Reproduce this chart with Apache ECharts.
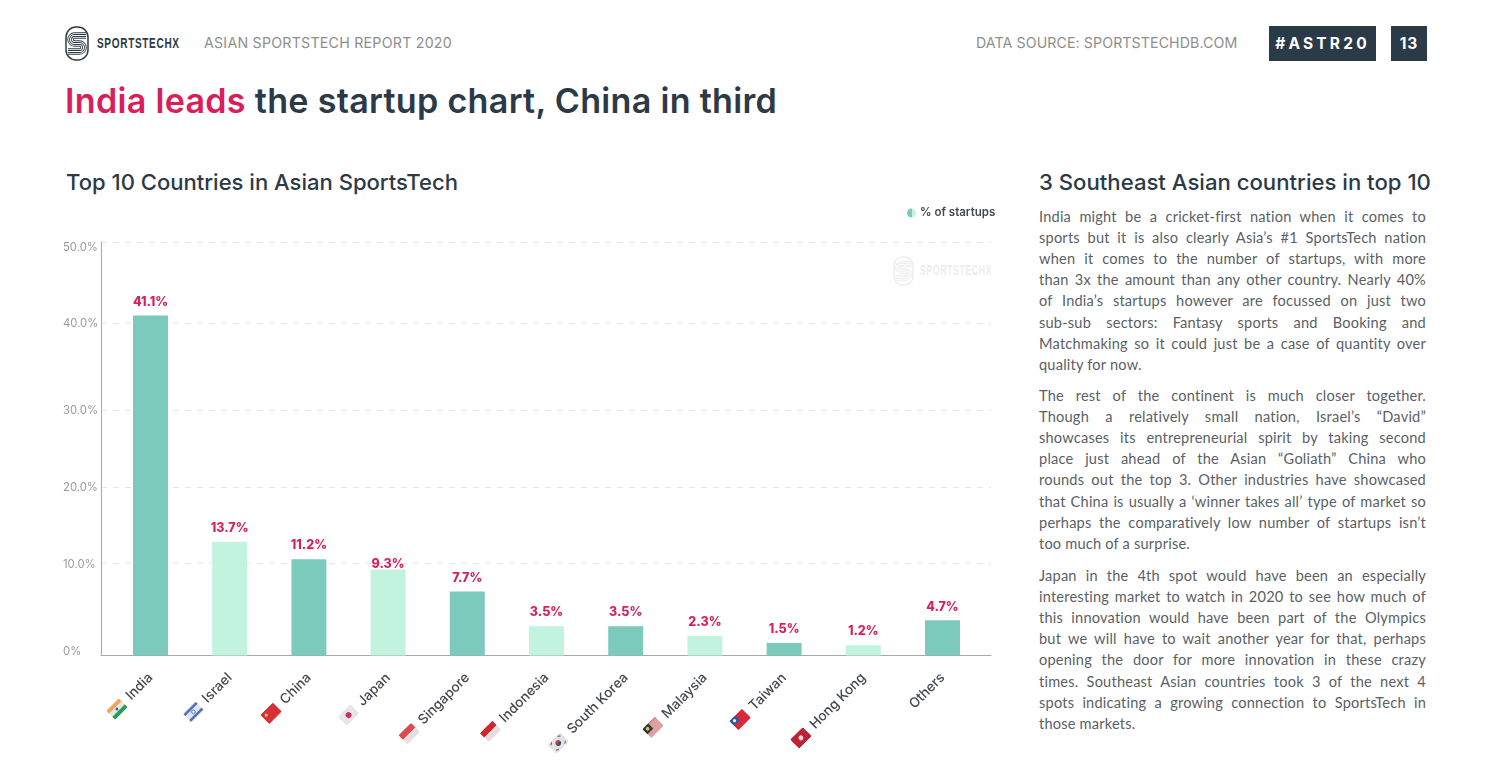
<!DOCTYPE html>
<html><head><meta charset="utf-8">
<style>
html,body{margin:0;padding:0;background:#fff;width:1487px;height:773px;overflow:hidden}
#page{position:relative;width:1487px;height:773px;font-family:Inter,sans-serif;color:#2c3a47}
#chart{position:absolute;left:0;top:0;width:1487px;height:773px}
.t{position:absolute;white-space:nowrap}
.fit{transform-origin:0 50%}
.line{position:absolute;left:1039px;width:387px;font:400 14.6px/21px Lato,sans-serif;letter-spacing:.2px;color:#5a5f65;text-align:justify;text-align-last:justify;white-space:nowrap}
.line.end{text-align-last:left}
.box{position:absolute;top:26px;height:35px;background:#2b3a47;color:#fff;font:700 15.5px/35px Inter,sans-serif;text-align:center}
</style></head><body>
<div id="page">
  <svg class="t" style="left:65px;top:26px" width="24" height="35" viewBox="0 0 24 35" id="logo"></svg>
  <div class="t fit" data-w="83" style="left:97px;top:35px;font:700 15px/16px 'Liberation Sans',sans-serif;letter-spacing:1px;color:#2f3a45">SPORTSTECHX</div>
  <div class="t" style="left:204px;top:34px;font:400 14.2px/18px Inter,sans-serif;letter-spacing:.24px;color:#8e8e8e">ASIAN SPORTSTECH REPORT 2020</div>
  <div class="t" style="left:976px;top:34px;font:400 14.2px/18px Inter,sans-serif;letter-spacing:.09px;color:#8e8e8e">DATA SOURCE: SPORTSTECHDB.COM</div>
  <div class="box" style="left:1269px;width:107px;letter-spacing:3.2px">#ASTR20</div>
  <div class="box" style="left:1391px;width:36px;letter-spacing:1px">13</div>
  <div class="t" style="left:65px;top:79px;font:600 34.1px/44px Inter,sans-serif;letter-spacing:.3px"><span style="color:#d81f5b">India leads</span> the startup chart, China in third</div>
  <div class="t" style="left:66px;top:167px;font:500 22.05px/30px Inter,sans-serif">Top 10 Countries in Asian SportsTech</div>
  <div class="t" style="left:1039px;top:167px;font:500 22.15px/30px Inter,sans-serif">3 Southeast Asian countries in top 10</div>
  <svg class="t" style="left:893px;top:256px;opacity:.1" width="21" height="30" viewBox="0 0 24 35" id="wm"></svg>
  <div class="t fit" data-w="72" style="left:920px;top:263px;font:700 14px/15px 'Liberation Sans',sans-serif;letter-spacing:1px;color:#ededed">SPORTSTECHX</div>
  <div id="copy"></div>
  <div id="chart"></div>
</div>
<script src="https://cdn.jsdelivr.net/npm/echarts@6/dist/echarts.min.js"></script>
<script>
const countries = ['India','Israel','China','Japan','Singapore','Indonesia','South Korea','Malaysia','Taiwan','Hong Kong','Others'];
// percentages as printed above the bars
const printedShares = [41.1,13.7,11.2,9.3,7.7,3.5,3.5,2.3,1.5,1.2,4.7];
// bar lengths as drawn in the picture, on the same 0-50 scale
const drawnBars = [41.1,13.75,11.65,10.4,7.75,3.55,3.55,2.35,1.5,1.25,4.25];
// the reference's tick labels and where it places them and its gridlines
const tickNames = ['0%','10.0%','20.0%','30.0%','40.0%','50.0%'];
const gridlineAt = [11.2,20.4,29.7,40.2,50];
const tickLabelAt = [0.45,11.05,20.3,29.6,40.1,49.3];
const legendName = '% of startups';
const flagCodes = ['in','il','cn','jp','sg','id','kr','my','tw','hk',null];
const paragraphs = [
 ['India might be a cricket-first nation when it comes to','sports but it is also clearly Asia’s #1 SportsTech nation','when it comes to the number of startups, with more','than 3x the amount than any other country. Nearly 40%','of India’s startups however are focussed on just two','sub-sub sectors: Fantasy sports and Booking and','Matchmaking so it could just be a case of quantity over','quality for now.'],
 ['The rest of the continent is much closer together.','Though a relatively small nation, Israel’s “David”','showcases its entrepreneurial spirit by taking second','place just ahead of the Asian “Goliath” China who','rounds out the top 3. Other industries have showcased','that China is usually a ‘winner takes all’ type of market so','perhaps the comparatively low number of startups isn’t','too much of a surprise.'],
 ['Japan in the 4th spot would have been an especially','interesting market to watch in 2020 to see how much of','this innovation would have been part of the Olympics','but we will have to wait another year for that, perhaps','opening the door for more innovation in these crazy','times. Southeast Asian countries took 3 of the next 4','spots indicating a growing connection to SportsTech in','those markets.']
];
const paragraphTops = [206,385,565];

document.querySelectorAll('.fit').forEach(el=>{
  el.style.transform='scaleX('+(+el.dataset.w/el.offsetWidth)+')';
});

// copy block
const copy = document.getElementById('copy');
paragraphs.forEach((lines,p)=>lines.forEach((txt,i)=>{
  const d=document.createElement('div');
  d.className='line'+(i===lines.length-1?' end':'');
  d.style.top=(paragraphTops[p]+i*21.1)+'px';
  d.textContent=txt;
  copy.appendChild(d);
}));

// logo
const logoInner = `<rect x="1" y="1" width="22" height="33" rx="10" fill="none" stroke="#2f3a45" stroke-width="1.5"/>
<g fill="none" stroke-linecap="butt">
${[[11,'#2f3a45'],[8,'#fff'],[5,'#2f3a45'],[2,'#fff']].map(([w,c])=>`<path d="M21 9.5H9.5a4 4 0 0 0 0 8h5a4 4 0 0 1 0 8H3" stroke="${c}" stroke-width="${w/1.7}"/>`).join('')}
</g>`;
document.getElementById('logo').innerHTML = logoInner;
document.getElementById('wm').innerHTML = logoInner;

// flag images for the axis labels
function svgUri(body){
  return 'data:image/svg+xml;utf8,'+encodeURIComponent('<svg xmlns="http://www.w3.org/2000/svg" width="60" height="42" viewBox="0 0 30 21"><clipPath id="c"><rect width="30" height="21" rx="2.5"/></clipPath><g clip-path="url(#c)">'+body+'</g></svg>');
}
const r=(y,h,c)=>`<rect y="${y}" width="30" height="${h}" fill="${c}"/>`;
const flagArt = {
  in: r(0,7,'#f0a35e')+r(7,7,'#ebe6df')+r(14,7,'#2f9a58')+'<circle cx="15" cy="10.5" r="2.4" fill="#3b5aa0"/>',
  il: r(0,21,'#dfe4f0')+r(2,4,'#4f6fb5')+r(15,4,'#4f6fb5')+'<circle cx="15" cy="10.5" r="3" fill="none" stroke="#4f6fb5" stroke-width="1.4"/>',
  cn: r(0,21,'#d8303a')+'<circle cx="7" cy="7" r="2.6" fill="#f4c542"/>',
  jp: r(0,21,'#e6e6e6')+'<circle cx="15" cy="10.5" r="4.8" fill="#d32f5c"/>',
  sg: r(0,10.5,'#dd4a52')+r(10.5,10.5,'#e6dfdf'),
  id: r(0,10.5,'#d0262f')+r(10.5,10.5,'#e6dfdf'),
  kr: r(0,21,'#e2e2e2')+'<circle cx="15" cy="10.5" r="4.5" fill="#b8404f"/><path d="M10.5 10.5a4.5 4.5 0 0 0 9 0z" fill="#3d4f83"/><path d="M4 5l4-3M4 16l4 3M22 2l4 3M22 19l4-3" stroke="#555" stroke-width="1.6"/>',
  my: r(0,21,'#e0a0a0')+r(0,3,'#d88a8a')+'<rect width="14" height="12" fill="#2f3a3f"/><circle cx="7" cy="6" r="3" fill="#d9c45a"/>',
  tw: r(0,21,'#d8283a')+'<rect width="14" height="11" fill="#2f58a8"/><circle cx="7" cy="5.5" r="2.6" fill="#f4f4f4"/>',
  hk: r(0,21,'#c22034')+'<circle cx="15" cy="10.5" r="4" fill="#f2d6d9"/>'
};
const richStyles = { name:{color:'#42484f',fontFamily:'Inter',fontSize:13.6,fontWeight:500,padding:[0,0,0,7]} };
flagCodes.forEach(c=>{ if(c) richStyles[c]={width:18,height:13,backgroundColor:{image:svgUri(flagArt[c])}}; });

const dark='#7ccabb', light='#c1f3df', pink='#d81f5b';
const chart = echarts.init(document.getElementById('chart'),null,{renderer:'canvas'});
chart.setOption({
  animation:false,
  backgroundColor:'transparent',
  legend:{
    data:[{name:legendName,icon:'circle',itemStyle:{color:{type:'linear',x:0,y:0,x2:1,y2:0,colorStops:[{offset:0,color:dark},{offset:.5,color:dark},{offset:.5,color:light},{offset:1,color:light}]}}}],
    left:902,top:202,itemWidth:9,itemHeight:9,itemGap:5,selectedMode:false,
    textStyle:{color:'#42484f',fontFamily:'Inter',fontSize:11.5,fontWeight:600,padding:[0,0,0,-1]}
  },
  grid:[
    {left:101,top:242,width:890,height:413.5},
    {left:110.9,top:242,width:871.2,height:413.5}
  ],
  xAxis:[
    {gridIndex:0,type:'category',data:[''],axisTick:{show:false},axisLabel:{show:false},axisLine:{lineStyle:{color:'#a8a8a8',width:1}},splitLine:{show:false}},
    {gridIndex:1,type:'category',data:countries,axisTick:{show:false},axisLine:{show:false},
     axisLabel:{interval:0,rotate:45,margin:20,
       formatter:(v,i)=>flagCodes[i]?`{${flagCodes[i]}|}{name|${v}}`:`{name|${v}}`,
       rich:richStyles}}
  ],
  yAxis:[
    {gridIndex:0,type:'value',min:0,max:50,
     axisLine:{show:true,lineStyle:{color:'#a8a8a8',width:1}},
     axisTick:{show:false,customValues:gridlineAt},
     splitLine:{show:true,lineStyle:{color:'#e6e6e6',type:[6,6],width:1}},
     axisLabel:{customValues:tickLabelAt,margin:38,align:'left',color:'#9a9a9a',fontFamily:'Inter',fontSize:11.3,showMinLabel:true,showMaxLabel:true,
       formatter:v=>tickNames[Math.round(v/10)]}},
    {gridIndex:1,type:'value',min:0,max:50,show:false,splitLine:{show:false}}
  ],
  series:[{
    name:legendName,type:'bar',xAxisIndex:1,yAxisIndex:1,barWidth:35,
    data:drawnBars.map((v,i)=>({value:v,itemStyle:{color:i%2?light:dark},
      // the 9.3% label sits almost on its bar in the reference
      label:i===3?{distance:-1}:undefined})),
    label:{show:true,position:'top',distance:7,color:pink,fontFamily:'Inter',fontSize:12.5,fontWeight:800,
      formatter:p=>printedShares[p.dataIndex].toFixed(1)+'%'}
  }]
});
</script>
</body></html>
